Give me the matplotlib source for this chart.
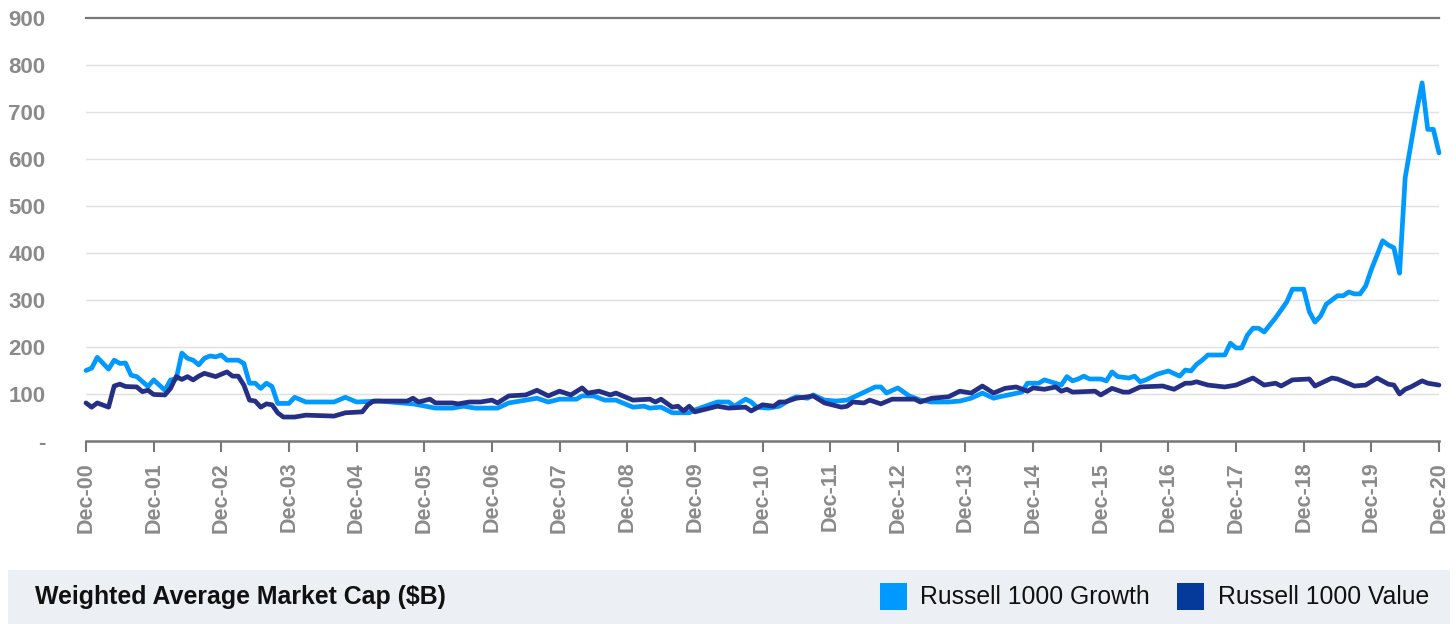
import matplotlib
matplotlib.use("Agg")
import matplotlib.pyplot as plt
from matplotlib.patches import Rectangle
import numpy as np

# ---- data (month offsets from Dec-2000, values in $B) ----
growth_months = [0, 1, 2, 4, 5, 6, 7, 8, 9, 11, 12, 14, 15, 16, 17, 18, 19, 20, 21, 22, 23, 24, 25, 27, 28, 29,
                 30, 31, 32, 33, 34, 36, 37, 39, 44, 46, 48, 52, 58, 62, 65, 67, 69, 73, 75, 78, 80, 82, 84, 87,
                 88, 90, 92, 94, 97, 99, 100, 102, 104, 107, 108, 112, 114, 115, 117, 118, 119, 121, 123, 125,
                 126, 128, 129, 131, 133, 135, 137, 140, 141, 142, 144, 146, 148, 150, 153, 155, 157, 159, 161,
                 162, 166, 167, 169, 170, 173, 174, 175, 176, 177, 178, 180, 181, 182, 183, 185, 186, 187, 188,
                 190, 192, 194, 195, 196, 197, 198, 199, 202, 203, 204, 205, 206, 207, 208, 209, 211, 212, 213,
                 214, 216, 217, 218, 219, 220, 222, 223, 224, 225, 226, 227, 228, 229, 230, 231, 232, 233, 234,
                 235, 236, 237, 238, 239, 240]
growth_values = [150, 155, 178, 153, 172, 165, 166, 140, 137, 116, 130, 108, 130, 132, 187, 176, 172, 162, 176, 181,
                 179, 183, 172, 172, 165, 123, 123, 112, 123, 116, 80, 80, 93, 83, 83, 93, 83, 85, 79, 70, 70,
                 74, 70, 70, 81, 87, 91, 83, 89, 89, 96, 96, 87, 87, 72, 74, 70, 72, 60, 60, 66, 83, 83, 74, 89,
                 83, 72, 70, 74, 89, 94, 91, 98, 87, 85, 87, 98, 115, 115, 102, 113, 96, 87, 83, 83, 85, 91,
                 102, 91, 94, 104, 123, 123, 130, 119, 137, 128, 132, 138, 132, 132, 128, 147, 137, 134, 138,
                 126, 130, 142, 149, 138, 151, 149, 163, 172, 183, 183, 208, 198, 198, 225, 240, 240, 232, 262,
                 279, 296, 323, 323, 275, 253, 266, 291, 309, 309, 317, 313, 313, 330, 365, 395, 426, 417, 411,
                 357, 560, 630, 700, 762, 663, 663, 613]

value_months = [0, 1, 2, 4, 5, 6, 7, 9, 10, 11, 12, 14, 15, 16, 17, 18, 19, 20, 21, 23, 25, 26, 27, 28, 29, 30,
                31, 32, 33, 34, 35, 37, 39, 44, 46, 49, 50, 51, 57, 58, 59, 61, 62, 65, 66, 68, 70, 72, 73, 75,
                78, 80, 82, 84, 86, 88, 89, 91, 93, 94, 97, 100, 101, 102, 104, 105, 106, 107, 108, 112, 114,
                117, 118, 120, 122, 123, 124, 126, 128, 129, 131, 134, 135, 136, 138, 139, 141, 143, 147, 148,
                150, 153, 155, 157, 159, 161, 163, 165, 167, 168, 170, 172, 173, 174, 175, 179, 180, 182, 184,
                185, 187, 191, 193, 195, 196, 197, 199, 202, 204, 207, 209, 211, 212, 214, 217, 218, 221, 222,
                225, 227, 229, 231, 232, 233, 234, 235, 237, 238, 240]
value_values = [81, 72, 81, 72, 117, 121, 116, 115, 105, 108, 99, 98, 112, 137, 131, 137, 130, 138, 144, 137, 147,
                138, 138, 119, 87, 85, 72, 79, 77, 60, 51, 51, 55, 53, 60, 62, 77, 85, 85, 91, 83, 89, 81, 81,
                79, 83, 83, 87, 81, 96, 98, 108, 96, 106, 98, 113, 102, 106, 98, 102, 87, 89, 83, 89, 72, 74,
                64, 74, 62, 74, 70, 72, 64, 77, 74, 83, 83, 91, 94, 96, 81, 72, 74, 83, 81, 87, 79, 89, 89, 83,
                91, 94, 106, 102, 117, 102, 112, 115, 106, 113, 110, 115, 106, 110, 104, 106, 98, 112, 104, 104,
                115, 117, 110, 123, 123, 126, 119, 115, 119, 134, 119, 123, 117, 130, 132, 117, 134, 132, 117,
                119, 134, 121, 119, 100, 110, 115, 128, 123, 119]

tick_labels = ["Dec-%02d" % y for y in range(0, 21)]
y_ticks = [0, 100, 200, 300, 400, 500, 600, 700, 800, 900]
y_labels = ["-" if v == 0 else str(v) for v in y_ticks]

series_names = ["Russell 1000 Growth", "Russell 1000 Value"]
title_text = "Weighted Average Market Cap ($B)"

# ---- style ----
growth_color = "#0099FF"
value_color = "#252F85"
value_legend_color = "#063A9A"
tick_color = "#8a8a8a"
W, H = 1456, 624

fig = plt.figure(figsize=(W / 100, H / 100), dpi=100)
ax = fig.add_axes([86 / W, 1 - 441 / H, (1439 - 86) / W, (441 - 18) / H])

for v in y_ticks[1:-1]:
    ax.axhline(v, color="#e0e0e0", lw=1.0, zorder=1)
ax.axhline(900, color="#777777", lw=1.6, zorder=2, clip_on=False)

ax.plot(growth_months, growth_values, color=growth_color, lw=3.4, solid_joinstyle="round",
        solid_capstyle="round", zorder=3, clip_on=False)
ax.plot(value_months, value_values, color=value_color, lw=3.4, solid_joinstyle="round",
        solid_capstyle="round", zorder=4, clip_on=False)

ax.set_xlim(0, 240)
ax.set_ylim(0, 900)
ax.set_xticks(range(0, 241, 12))
ax.set_xticklabels(tick_labels, rotation=90, fontsize=15.5, fontweight="bold", color=tick_color,
                   family="Liberation Sans")
ax.set_yticks(y_ticks)
ax.set_yticklabels(y_labels, fontsize=16, fontweight="bold", color=tick_color, family="Liberation Sans")
ax.tick_params(axis="y", length=0, pad=29)
ax.tick_params(axis="x", length=8, width=1.5, color="#777777", pad=7)

for s in ["top", "right", "left"]:
    ax.spines[s].set_visible(False)
ax.spines["bottom"].set_color("#777777")
ax.spines["bottom"].set_linewidth(1.8)
ax.spines["bottom"].set_zorder(5)

# ---- bottom banner with title and legend ----
fig.patches.append(Rectangle((8 / W, 0), (1450 - 8) / W, 54 / H, transform=fig.transFigure,
                             facecolor="#ECEFF3", edgecolor="none", zorder=0))
fig.text(35 / W, 1 - 597 / H, title_text, fontsize=17.9, fontweight="bold", color="#111111",
         va="center", ha="left", family="Liberation Sans")

legend_items = [(880, 920, growth_color, series_names[0]), (1177, 1218, value_legend_color, series_names[1])]
for sx, tx, col, name in legend_items:
    fig.patches.append(Rectangle((sx / W, 1 - 610 / H), 27 / W, 27 / H, transform=fig.transFigure,
                                 facecolor=col, edgecolor="none", zorder=1))
    fig.text(tx / W, 1 - 597 / H, name, fontsize=17.8, color="#111111", va="center", ha="left",
             family="Liberation Sans")

fig.savefig("out.png", dpi=100)
